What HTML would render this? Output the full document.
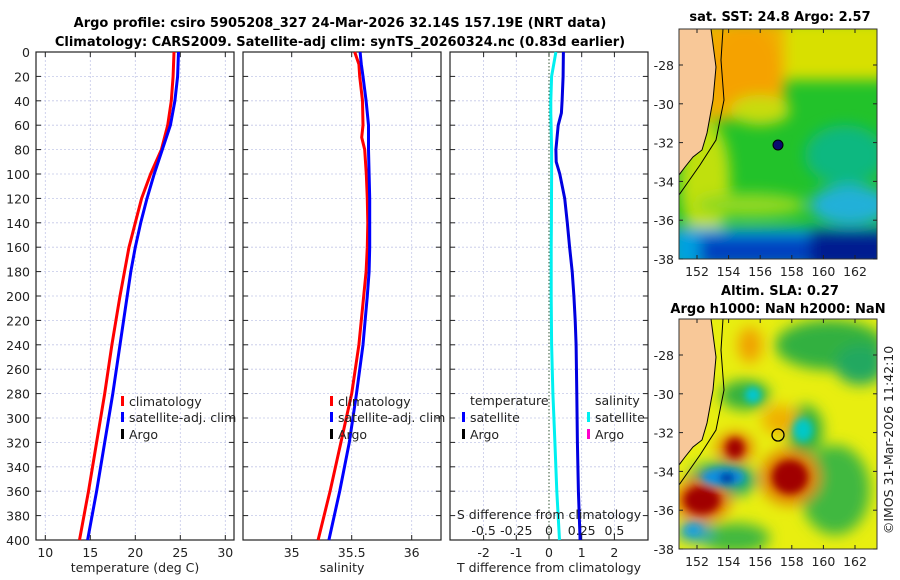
<!DOCTYPE html>
<html><head><meta charset="utf-8"><style>
html,body{margin:0;padding:0;background:#fff;}
svg{display:block;font-family:"DejaVu Sans","Liberation Sans",sans-serif;}
</style></head><body>
<svg id="c" width="900" height="580" viewBox="0 0 900 580" xmlns="http://www.w3.org/2000/svg">
<defs>
<filter id="bl" x="-50%" y="-50%" width="200%" height="200%"><feGaussianBlur stdDeviation="7"/></filter>
<filter id="bl2" x="-50%" y="-50%" width="200%" height="200%"><feGaussianBlur stdDeviation="4"/></filter>
<clipPath id="m1"><rect x="679" y="29" width="198" height="230"/></clipPath>
<clipPath id="m2"><rect x="679" y="319" width="198" height="230"/></clipPath>
</defs>
<text x="340" y="27" text-anchor="middle" font-size="13" font-weight="bold">Argo profile: csiro 5905208_327 24-Mar-2026 32.14S 157.19E (NRT data)</text>
<text x="340" y="46" text-anchor="middle" font-size="13" font-weight="bold">Climatology: CARS2009. Satellite-adj clim: synTS_20260324.nc (0.83d earlier)</text>

<!-- SST map -->
<g clip-path="url(#m1)">
<rect x="679" y="29" width="198" height="230" fill="#22c22a"/>
<g filter="url(#bl)">
<rect x="700" y="20" width="190" height="60" fill="#d8e000"/>
<rect x="700" y="20" width="85" height="100" fill="#f0b000"/>
<ellipse cx="745" cy="70" rx="35" ry="45" fill="#f5a200"/>
<ellipse cx="760" cy="110" rx="30" ry="15" fill="#c8dc10"/>
<ellipse cx="705" cy="180" rx="25" ry="60" fill="#c0e010"/>
<ellipse cx="750" cy="205" rx="55" ry="12" fill="#90d820"/>
<ellipse cx="845" cy="155" rx="40" ry="30" fill="#10b880"/>
<ellipse cx="850" cy="205" rx="40" ry="20" fill="#20b0d8"/>
<rect x="670" y="228" width="220" height="40" fill="#00a0e0"/>
<rect x="700" y="236" width="190" height="30" fill="#0040c0"/>
<rect x="810" y="230" width="80" height="40" fill="#001a90"/>
</g>
<polygon points="679,29 711,29 716,67 713,100 707,133 702,150 693,157 685,167 679,175" fill="#f8c898" stroke="#000" stroke-width="1"/>
<polyline points="723,29 721,60 724,100 716,140 700,165 679,195" fill="none" stroke="#000" stroke-width="1"/>
<circle cx="778" cy="145" r="5" fill="#0a0a70" stroke="#000"/>
</g>
<rect x="679" y="29" width="198" height="230" fill="none" stroke="#333"/>
<text x="780" y="21" text-anchor="middle" font-size="13" font-weight="bold">sat. SST: 24.8 Argo: 2.57</text>

<!-- SLA map -->
<g clip-path="url(#m2)">
<rect x="679" y="319" width="198" height="230" fill="#e8ee10"/>
<g filter="url(#bl)">
<ellipse cx="830" cy="345" rx="55" ry="25" fill="#30b040"/>
<ellipse cx="860" cy="365" rx="25" ry="20" fill="#20a860"/>
<ellipse cx="745" cy="395" rx="25" ry="15" fill="#30b040"/>
<ellipse cx="805" cy="430" rx="18" ry="25" fill="#30b040"/>
<ellipse cx="835" cy="490" rx="35" ry="45" fill="#40b840"/>
<ellipse cx="735" cy="538" rx="35" ry="15" fill="#40b840"/>
<ellipse cx="722" cy="480" rx="35" ry="18" fill="#20a870"/>
<ellipse cx="750" cy="345" rx="12" ry="18" fill="#f0a000"/>
<ellipse cx="780" cy="420" rx="18" ry="15" fill="#f0b000"/>
<ellipse cx="790" cy="477" rx="30" ry="28" fill="#e08000"/>
<ellipse cx="735" cy="448" rx="18" ry="15" fill="#e07000"/>
<ellipse cx="702" cy="500" rx="28" ry="22" fill="#e07000"/>
<ellipse cx="695" cy="532" rx="18" ry="10" fill="#20a0c0"/>
</g>
<g filter="url(#bl2)">
<ellipse cx="753" cy="395" rx="8" ry="8" fill="#00c8d8"/>
<ellipse cx="803" cy="430" rx="10" ry="12" fill="#00c8c8"/>
<ellipse cx="723" cy="477" rx="22" ry="9" fill="#1090e0"/>
<ellipse cx="727" cy="478" rx="8" ry="5" fill="#0020a0"/>
<ellipse cx="790" cy="477" rx="18" ry="17" fill="#a00000"/>
<ellipse cx="735" cy="448" rx="9" ry="10" fill="#a00000"/>
<ellipse cx="702" cy="500" rx="18" ry="14" fill="#a00000"/>
<ellipse cx="693" cy="530" rx="8" ry="5" fill="#10a0e0"/>
</g>
<polygon points="679,319 711,319 716,357 713,390 707,423 702,440 693,447 685,457 679,465" fill="#f8c898" stroke="#000" stroke-width="1"/>
<polyline points="723,319 721,350 724,390 716,430 700,455 679,485" fill="none" stroke="#000" stroke-width="1"/>
<circle cx="778" cy="435" r="6" fill="none" stroke="#000" stroke-width="1.3"/>
</g>
<rect x="679" y="319" width="198" height="230" fill="none" stroke="#333"/>
<text x="780" y="295" text-anchor="middle" font-size="13" font-weight="bold">Altim. SLA: 0.27</text>
<text x="778" y="313" text-anchor="middle" font-size="13" font-weight="bold">Argo h1000: NaN h2000: NaN</text>
<text transform="translate(893,440) rotate(-90)" text-anchor="middle" font-size="12.5" fill="#222">©IMOS 31-Mar-2026 11:42:10</text>
<g id="plots"></g>
</svg>
<script>
// depth levels (m)
const depths = [0,20,40,60,80,100,120,140,160,180,200,240,280,320,360,400];
// temperature (deg C)
const tempClim = [24.3,24.2,24.0,23.6,22.9,21.7,20.7,20.0,19.3,18.8,18.3,17.4,16.6,15.7,14.8,13.8];
const tempSat  = [24.8,24.7,24.4,23.9,23.0,22.1,21.3,20.6,20.0,19.5,19.1,18.3,17.5,16.6,15.7,14.7];
// salinity
const salDepths = [0,10,20,40,60,70,80,100,120,140,160,180,200,240,280,300,320,360,400];
const salClim = [35.525,35.56,35.567,35.59,35.594,35.583,35.608,35.622,35.63,35.634,35.63,35.62,35.60,35.56,35.50,35.455,35.41,35.32,35.22];
const salSat  = [35.57,35.58,35.594,35.62,35.64,35.64,35.64,35.645,35.65,35.65,35.65,35.645,35.63,35.594,35.54,35.51,35.48,35.40,35.31];
// differences from climatology
const diffDepths = [0,20,40,50,60,80,90,100,120,140,160,180,200,220,240,280,320,360,400];
const tDiff = [0.44,0.43,0.40,0.38,0.28,0.21,0.22,0.33,0.48,0.56,0.63,0.71,0.76,0.80,0.83,0.85,0.87,0.90,0.95];
const sDiff = [0.053,0.02,0.014,0.014,0.016,0.02,0.02,0.02,0.019,0.018,0.017,0.017,0.017,0.018,0.02,0.03,0.045,0.06,0.08];
// tick labels
const depthTicks = [0,20,40,60,80,100,120,140,160,180,200,220,240,260,280,300,320,340,360,380,400];
const tempTicks = [10,15,20,25,30];
const salTicks = [35,35.5,36];
const tDiffTicks = [-2,-1,0,1,2];
const sDiffTicks = [-0.5,-0.25,0,0.25,0.5];
const lonTicks = [152,154,156,158,160,162];
const latTicks = [-28,-30,-32,-34,-36,-38];

const NS='http://www.w3.org/2000/svg';
const G=document.getElementById('plots');
function el(t,a,p){const e=document.createElementNS(NS,t);for(const k in a)e.setAttribute(k,a[k]);(p||G).appendChild(e);return e;}
const Y0=52,Y1=540;
const yD=d=>Y0+(d/400)*(Y1-Y0);
const xT=v=>45.3+(v-10)*9;
const xS=v=>291.7+(v-35)*120;
const xTD=v=>549+v*32.7;
const xSD=v=>549+v*130.8;
const lonX=(l)=>697+(l-152)*15.8;
const latY=(l,off)=>off+65+(-28-l)*19.4;

const panels=[{x0:36,x1:234,name:'temperature-panel'},{x0:243,x1:441,name:'salinity-panel'},{x0:450,x1:648,name:'difference-panel'}];
panels.forEach((p,i)=>{
  const g=el('g',{});
  
  
  depthTicks.forEach(d=>{
    if(d>0&&d<400){const l=el('line',{x1:p.x0,x2:p.x1,y1:yD(d),y2:yD(d),stroke:'#c4c8e8','stroke-dasharray':'2,2','stroke-width':0.8},g);
    
    }
    el('line',{x1:p.x0,x2:p.x0+5,y1:yD(d),y2:yD(d),stroke:'#222'},g);
    el('line',{x1:p.x1-5,x2:p.x1,y1:yD(d),y2:yD(d),stroke:'#222'},g);
    if(i===0){const t=el('text',{x:30,y:yD(d)+5,'text-anchor':'end','font-size':12.5,fill:'#222'},g);t.textContent=d;
    
    }
  });
  const ticks=[tempTicks,salTicks,tDiffTicks][i], fx=[xT,xS,xTD][i];
  ticks.forEach(v=>{
    const x=fx(v);
    if(!(i===2&&v===0)){const gl=el('line',{x1:x,x2:x,y1:Y0,y2:Y1,stroke:'#c4c8e8','stroke-dasharray':'2,2','stroke-width':0.8},g);
    
    }
    el('line',{x1:x,x2:x,y1:Y1,y2:Y1-5,stroke:'#222'},g);
    el('line',{x1:x,x2:x,y1:Y0,y2:Y0+5,stroke:'#222'},g);
    const t=el('text',{x:x,y:557,'text-anchor':'middle','font-size':12.5,fill:'#222'},g);t.textContent=v;
    
    
  });
  const fr=el('rect',{x:p.x0,y:Y0,width:p.x1-p.x0,height:Y1-Y0,fill:'none',stroke:'#222','stroke-width':1.2},g);
  
  
});
// zero line
const zl=el('line',{x1:xTD(0),x2:xTD(0),y1:Y0,y2:Y1,stroke:'#335533','stroke-dasharray':'1.5,2','stroke-width':1});



function line(xs,ds,fx,color,name,w){
  const d=xs.map((v,k)=>(k?'L':'M')+fx(v).toFixed(1)+','+yD(ds[k]).toFixed(1)).join(' ');
  const p=el('path',{d:d,fill:'none',stroke:color,'stroke-width':w||3,'stroke-linejoin':'round'});
  
  
}
line(tempClim,depths,xT,'#ff0000','temp-climatology-line');
line(tempSat,depths,xT,'#0000ff','temp-satellite-line');
line(salClim,salDepths,xS,'#ff0000','sal-climatology-line');
line(salSat,salDepths,xS,'#0000ff','sal-satellite-line');
line(sDiff,diffDepths,xSD,'#00f0f0','sal-diff-line');
line(tDiff,diffDepths,xTD,'#0000e0','temp-diff-line');

function txt(x,y,s,size,anchor,name){const t=el('text',{x:x,y:y,'font-size':size||12.5,'text-anchor':anchor||'start',fill:'#222'});t.textContent=s;
  
  return t;}
function mark(x,y,c,name){const r=el('rect',{x:x,y:y-10,width:3,height:10,fill:c});
  
  }
[[121,129],[330,338]].forEach(([mx,tx],k)=>{
  mark(mx,406,'#ff0000','legend-climatology-marker');txt(tx,406,'climatology',12.5,'start','legend-climatology');
  mark(mx,422,'#0000ff','legend-satellite-marker');txt(tx,422,'satellite-adj. clim',12.5,'start','legend-satellite-adj');
  mark(mx,439,'#000','legend-argo-marker');txt(tx,439,'Argo',12.5,'start','legend-argo');
});
txt(470,405,'temperature',12.5,'start','legend-temperature-header');
mark(462,422,'#0000ff','legend-t-satellite-marker');txt(470,422,'satellite',12.5,'start','legend-t-satellite');
mark(462,439,'#000','legend-t-argo-marker');txt(470,439,'Argo',12.5,'start','legend-t-argo');
txt(595,405,'salinity',12.5,'start','legend-salinity-header');
mark(587,422,'#00f0f0','legend-s-satellite-marker');txt(595,422,'satellite',12.5,'start','legend-s-satellite');
mark(587,439,'#ff00cc','legend-s-argo-marker');txt(595,439,'Argo',12.5,'start','legend-s-argo');
txt(549,519,'S difference from climatology',12.5,'middle','s-diff-axis-title');
sDiffTicks.forEach(v=>txt(xSD(v),535,String(v),12.5,'middle','s-diff-tick-label'));
txt(135,572,'temperature (deg C)',12.5,'middle','temp-axis-title');
txt(342,572,'salinity',12.5,'middle','sal-axis-title');
txt(549,572,'T difference from climatology',12.5,'middle','tdiff-axis-title');

// map ticks
[[29,259,0],[319,549,290]].forEach(([t,b,off])=>{
  lonTicks.forEach(l=>{const x=lonX(l);
    el('line',{x1:x,x2:x,y1:b,y2:b-4,stroke:'#222'});el('line',{x1:x,x2:x,y1:t,y2:t+4,stroke:'#222'});
    txt(x,b+17,String(l),12.5,'middle','lon-tick-label');});
  latTicks.forEach(l=>{const y=latY(l,off);
    el('line',{x1:679,x2:683,y1:y,y2:y,stroke:'#222'});el('line',{x1:873,x2:877,y1:y,y2:y,stroke:'#222'});
    txt(674,y+5,String(l),12.5,'end','lat-tick-label');});
});
</script>
</body></html>
